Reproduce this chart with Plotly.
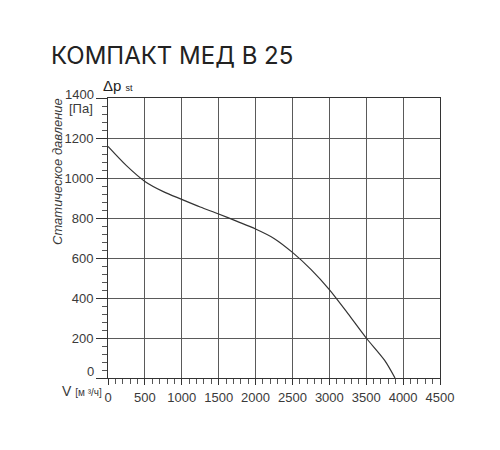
import plotly.graph_objects as go

# fan curve
flow = [0, 250, 500, 750, 1000, 1250, 1500, 1750, 2000, 2250, 2500, 2750, 3000, 3250, 3500, 3750, 3890]
pressure = [1158, 1062, 983, 932, 893, 855, 820, 783, 745, 698, 628, 543, 442, 323, 200, 88, 0]

x_ticks = [0, 500, 1000, 1500, 2000, 2500, 3000, 3500, 4000, 4500]
y_ticks = [0, 200, 400, 600, 800, 1000, 1200, 1400]

grid_col = "#5a5a5a"
text_col = "#3a3a3a"
tick_font = dict(family="Liberation Sans", size=13, color=text_col)

# page has an 8px body margin, so the figure is sized to fit inside it
W, H = 484, 434
L, R, T, B = 100, 52, 90, 64
PAGE_OFF = 8


def px(x, y):
    # page pixel -> paper coords
    fx = (x - PAGE_OFF - L) / (W - L - R)
    fy = 1 - (y - PAGE_OFF - T) / (H - T - B)
    return fx, fy


def label(text, x, y, font, xanchor="left", **kw):
    fx, fy = px(x, y)
    return dict(text=text, x=fx, y=fy, xref="paper", yref="paper", showarrow=False,
                xanchor=xanchor, yanchor="middle", font=font, **kw)


# top and bottom tick labels are drawn by hand, they sit off their ticks in the original
y_text = [str(v) for v in y_ticks]
y_text[0] = ""
y_text[-1] = ""

fig = go.Figure()
fig.add_trace(go.Scatter(
    x=flow, y=pressure, mode="lines",
    line=dict(color="#333333", width=1.2, shape="spline", smoothing=0.8),
    showlegend=False, hoverinfo="skip",
))

fig.update_layout(
    width=W, height=H,
    margin=dict(l=L, r=R, t=T, b=B),
    paper_bgcolor="white", plot_bgcolor="white",
    annotations=[
        label("КОМПАКТ МЕД В 25", 49, 55, dict(family="Inter", size=24, color="#222222")),
        label("Δp <span style='font-size:9px'>st</span>", 101, 86,
              dict(family="Liberation Sans", size=15, color="#222222")),
        label(str(y_ticks[-1]), 96, 94, tick_font, xanchor="right"),
        label("[Па]", 95, 108, tick_font, xanchor="right"),
        label(str(y_ticks[0]), 96, 371, tick_font, xanchor="right"),
        label("<i>Статическое давление</i>", 57, 172,
              dict(family="Liberation Sans", size=13, color=text_col), xanchor="center", textangle=-90),
        label("V <span style='font-size:10px'>[м ³/ч]</span>", 60, 391,
              dict(family="Liberation Sans", size=14, color=text_col)),
    ],
)

fig.update_xaxes(
    range=[0, 4500], tickvals=x_ticks, ticktext=[str(v) for v in x_ticks],
    showgrid=True, gridcolor=grid_col, gridwidth=1,
    showline=True, linecolor="#333333", linewidth=1, mirror=True,
    ticks="outside", ticklen=6, tickcolor="#333333", ticklabelstandoff=1,
    minor=dict(dtick=100, ticks="outside", ticklen=5, tickcolor="#555555", showgrid=False),
    tickfont=tick_font, zeroline=False, fixedrange=True,
)
fig.update_yaxes(
    range=[0, 1400], tickvals=y_ticks, ticktext=y_text,
    showgrid=True, gridcolor=grid_col, gridwidth=1,
    showline=True, linecolor="#333333", linewidth=1, mirror=True,
    ticks="outside", ticklen=11, tickcolor="#333333",
    minor=dict(dtick=40, ticks="outside", ticklen=5, tickcolor="#555555", showgrid=False),
    tickfont=tick_font, zeroline=False, fixedrange=True,
)

fig.write_html("out.html")
